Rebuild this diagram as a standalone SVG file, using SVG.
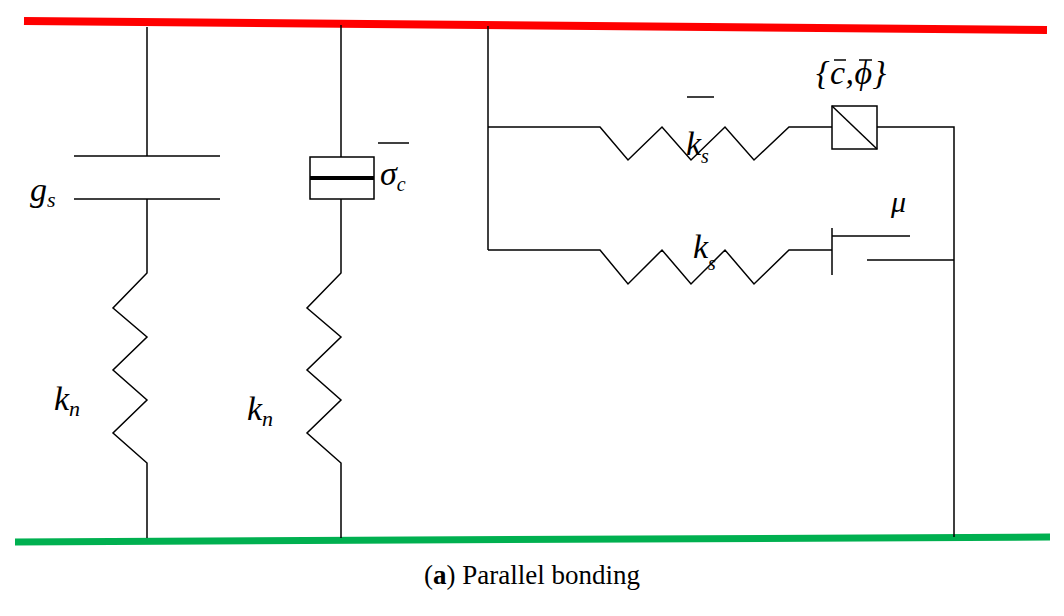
<svg xmlns="http://www.w3.org/2000/svg" width="1064" height="616" viewBox="0 0 1064 616">
<style>
.w{fill:none;stroke:#000;stroke-width:1.5}
.m{font-family:"Liberation Serif",serif;font-style:italic;fill:#000}
</style>
<rect width="1064" height="616" fill="#fff"/>
<line x1="24" y1="21" x2="1047" y2="30" stroke="#f00" stroke-width="8"/>
<line x1="15" y1="542" x2="1050" y2="537" stroke="#00b050" stroke-width="7"/>
<g id="connectors">
<polyline class="w" points="147,27 147,156"/>
<line class="w" x1="74" y1="156" x2="220" y2="156"/>
<line class="w" x1="74" y1="199" x2="220" y2="199"/>
<polyline class="w" points="147,199 147,273 113,308 147,337 113,370 147,400 113,433 147,463 147,538"/>
<polyline class="w" points="341,25 341,157"/>
<polyline class="w" points="341,199 341,273 307,308 341,337 307,370 341,400 307,433 341,463 341,538"/>
<polyline class="w" points="488,26 488,250"/>
<polyline class="w" points="488,127 600,127 628,160 662,127 691,160 725,127 754,160 789,127 832,127"/>
<polyline class="w" points="877,127 954,127 954,537"/>
<polyline class="w" points="488,250 600,250 628,284 662,250 691,284 725,250 754,284 789,250 832,250"/>
<line class="w" x1="832" y1="228" x2="832" y2="275"/>
<line class="w" x1="832" y1="236" x2="910" y2="236"/>
<line class="w" x1="867" y1="260" x2="954" y2="260"/>
</g>
<g id="bond">
<rect class="w" x="310" y="157" width="64" height="42"/>
<line x1="310" y1="178" x2="374" y2="178" stroke="#000" stroke-width="4"/>
</g>
<g id="slider">
<rect class="w" x="832" y="106" width="45" height="43"/>
<line class="w" x1="832" y1="106" x2="877" y2="149"/>
</g>
<g id="labels">
<text class="m" x="30" y="201" font-size="34" font-style="normal">g<tspan font-size="22" dy="6" font-style="italic">s</tspan></text>
<text class="m" x="54" y="410" font-size="34">k<tspan font-size="22" dy="6">n</tspan></text>
<text class="m" x="247" y="420" font-size="34">k<tspan font-size="22" dy="6">n</tspan></text>
<text class="m" x="380" y="185" font-size="34">σ<tspan font-size="20" dy="6">c</tspan></text>
<line class="w" x1="378" y1="143" x2="409" y2="143"/>
<text class="m" x="686" y="155" font-size="34">k<tspan font-size="20" dy="8">s</tspan></text>
<line class="w" x1="687" y1="97" x2="714" y2="97"/>
<text class="m" x="693" y="258" font-size="34">k<tspan font-size="20" dy="12">s</tspan></text>
<text class="m" x="891" y="212" font-size="30">μ</text>
<text class="m" x="816" y="84" font-size="34" textLength="70">{c,ϕ}</text>
<line class="w" x1="834" y1="60" x2="846" y2="60"/>
<line class="w" x1="859" y1="60" x2="872" y2="60"/>
<text x="532" y="584" font-size="27" text-anchor="middle" font-family="Liberation Serif,serif">(<tspan font-weight="bold">a</tspan>) Parallel bonding</text>
</g>
</svg>
